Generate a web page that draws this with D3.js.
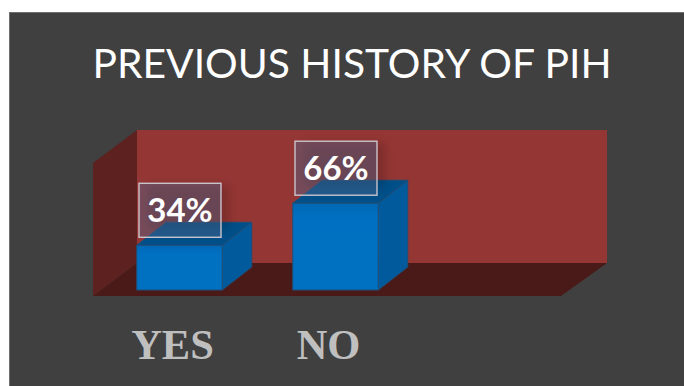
<!DOCTYPE html>
<html>
<head>
<meta charset="utf-8">
<script src="https://cdn.jsdelivr.net/npm/d3@7"></script>
<style>
html,body{margin:0;padding:0;background:#fff;}
svg{display:block;}
</style>
</head>
<body>
<svg id="chart" width="684" height="386"></svg>
<script>
const titleText = "PREVIOUS HISTORY OF PIH";
const categories = ["YES", "NO", ""];
const percentages = [34, 66];

const svg = d3.select("#chart");
const defs = svg.append("defs");
defs.append("filter").attr("id", "soft").attr("x", "-30%").attr("y", "-30%").attr("width", "160%").attr("height", "160%")
  .append("feGaussianBlur").attr("stdDeviation", 5);
const frontGrad = defs.append("linearGradient").attr("id", "front").attr("x1", 0).attr("y1", 0).attr("x2", 0).attr("y2", 1);
frontGrad.append("stop").attr("offset", "0%").attr("stop-color", "#0068b4");
frontGrad.append("stop").attr("offset", "18%").attr("stop-color", "#0070c2");
frontGrad.append("stop").attr("offset", "100%").attr("stop-color", "#0070c0");

// Chart area and its 3D projection offsets
const floorY = 296, baseY = 290, depthX = 44, depthY = -33, barDX = 29.5, barDY = -23;
const x = d3.scaleBand().domain(categories).range([101.5, 569.5]).paddingInner(0.452).paddingOuter(0.226);
const y = d3.scaleLinear().domain([0, 100]).range([baseY, baseY - 131.5]);
const left = 93, right = 561, wallH = 133;

// Panel
svg.append("rect").attr("x", 9.5).attr("y", 12.5).attr("width", 690).attr("height", 390)
  .attr("fill", "#404040").attr("stroke", "#6e6e6e").attr("stroke-width", 1);

svg.append("text").attr("x", 352).attr("y", 78).attr("text-anchor", "middle")
  .attr("font-family", "Lato, 'Open Sans', sans-serif").attr("font-size", 40.8).attr("fill", "#fff").text(titleText);

const poly = pts => pts.map(p => p.join(",")).join(" ");

// Walls and floor
svg.append("polygon").attr("points", poly([[left + depthX, floorY + depthY - wallH], [right + depthX + 2, floorY + depthY - wallH], [right + depthX + 2, floorY + depthY], [left + depthX, floorY + depthY]])).attr("fill", "#943634");
svg.append("polygon").attr("points", poly([[left, floorY - wallH], [left + depthX, floorY + depthY - wallH], [left + depthX, floorY + depthY], [left, floorY]])).attr("fill", "#5d211f");
svg.append("polygon").attr("points", poly([[left, floorY], [right, floorY], [right + depthX + 2, floorY + depthY], [left + depthX, floorY + depthY]])).attr("fill", "#4a1a18");

const rows = percentages.map((value, i) => ({ value, cat: categories[i] }));
const bars = svg.append("g").selectAll("g").data(rows).join("g");
const edge = "#1f4e79";

// Each column is a front, a side and a top face
bars.append("polygon").attr("points", d => {
  const x1 = x(d.cat) + x.bandwidth(), t = y(d.value);
  return poly([[x1, t], [x1 + barDX, t + barDY], [x1 + barDX, baseY + barDY], [x1, baseY]]);
}).attr("fill", "#005a9c").attr("stroke", edge).attr("stroke-width", 1);
bars.append("polygon").attr("points", d => {
  const x0 = x(d.cat), x1 = x0 + x.bandwidth(), t = y(d.value);
  return poly([[x0, t], [x1, t], [x1 + barDX, t + barDY], [x0 + barDX, t + barDY]]);
}).attr("fill", "#004f88").attr("stroke", edge).attr("stroke-width", 1);
bars.append("rect").attr("x", d => x(d.cat)).attr("y", d => y(d.value))
  .attr("width", x.bandwidth()).attr("height", d => baseY - y(d.value))
  .attr("fill", "url(#front)").attr("stroke", edge).attr("stroke-width", 1);

// Value callouts with a soft shadow behind them
const boxW = 82, boxH = 54, boxGap = 8;
const labels = svg.append("g").selectAll("g").data(rows).join("g")
  .attr("transform", d => `translate(${x(d.cat) + x.bandwidth() / 2 + 0.5},${y(d.value) - boxGap - boxH / 2})`);
labels.append("rect").attr("x", -boxW / 2 + 8).attr("y", -boxH / 2 + 2).attr("width", boxW).attr("height", boxH - 10)
  .attr("fill", "#000").attr("opacity", 0.16).attr("filter", "url(#soft)");
labels.append("rect").attr("x", -boxW / 2).attr("y", -boxH / 2).attr("width", boxW).attr("height", boxH)
  .attr("fill", "rgb(82,105,142)").attr("fill-opacity", 0.42)
  .attr("stroke", "#c9c4cc").attr("stroke-width", 1.4);
labels.append("text").attr("text-anchor", "middle").attr("y", 12)
  .attr("font-family", "Lato, 'Open Sans', sans-serif").attr("font-weight", 700).attr("font-size", 33).attr("fill", "#fff")
  .text(d => d.value + "%");

// Category axis below the floor
const axis = svg.append("g").attr("transform", "translate(-7,359)")
  .call(d3.axisBottom(x).tickSize(0).tickPadding(0));
axis.select(".domain").remove();
axis.selectAll("text").attr("y", 0).attr("dy", 0)
  .attr("font-family", "'Liberation Serif', serif").attr("font-weight", 700).attr("font-size", 42.5).attr("fill", "#bfbfbf");
</script>
</body>
</html>
